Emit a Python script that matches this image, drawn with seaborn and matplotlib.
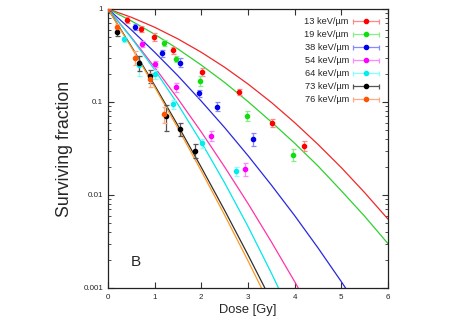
import numpy as np
import pandas as pd
import seaborn as sns
import matplotlib.pyplot as plt
from matplotlib.container import ErrorbarContainer
from matplotlib.legend_handler import HandlerErrorbar

# series labels and colours
labels = ["13 keV/\u00b5m", "19 keV/\u00b5m", "38 keV/\u00b5m", "54 keV/\u00b5m",
          "64 keV/\u00b5m", "73 keV/\u00b5m", "76 keV/\u00b5m"]
point_colors = ["#ff0000", "#11dd11", "#0000ee", "#ff00ff", "#00eeee", "#000000", "#ff5500"]
err_colors = ["#ff8888", "#88ee88", "#8888ff", "#ff88ff", "#88ffff", "#555555", "#ffaa80"]
line_colors = ["#f02828", "#30d030", "#2828e0", "#ff33aa", "#00e8e8", "#303030", "#ff9922"]

# measured points (dose [Gy], surviving fraction, error)
dose_13 = [0, 0.40, 0.71, 0.99, 1.40, 2.01, 2.81, 3.51, 4.20]
sf_13 = [1, 0.76, 0.61, 0.50, 0.36, 0.21, 0.128, 0.060, 0.034]
err_13 = [0, 0.05, 0.05, 0.05, 0.03, 0.02, 0.01, 0.006, 0.004]

dose_19 = [0, 1.19, 1.46, 1.97, 2.97, 3.97]
sf_19 = [1, 0.43, 0.29, 0.17, 0.071, 0.027]
err_19 = [0, 0.03, 0.02, 0.02, 0.008, 0.004]

dose_38 = [0, 0.57, 1.15, 1.55, 1.94, 2.33, 3.10]
sf_38 = [1, 0.645, 0.333, 0.265, 0.124, 0.089, 0.040]
err_38 = [0, 0.05, 0.03, 0.03, 0.01, 0.01, 0.006]

dose_54 = [0, 0.73, 1.01, 1.46, 2.21, 2.94]
sf_54 = [1, 0.42, 0.256, 0.144, 0.0435, 0.019]
err_54 = [0, 0.03, 0.02, 0.015, 0.005, 0.003]

dose_64 = [0, 0.34, 0.67, 1.01, 1.39, 2.01, 2.74]
sf_64 = [1, 0.47, 0.25, 0.198, 0.094, 0.036, 0.018]
err_64 = [0, 0.03, 0.06, 0.02, 0.01, 0.004, 0.002]

dose_73 = [0, 0.20, 0.66, 0.91, 1.24, 1.54, 1.87]
sf_73 = [1, 0.57, 0.265, 0.19, 0.071, 0.051, 0.030]
err_73 = [0, 0.06, 0.05, 0.03, 0.022, 0.008, 0.005]

dose_76 = [0, 0.20, 0.58, 0.89, 1.19]
sf_76 = [1, 0.645, 0.30, 0.175, 0.074]
err_76 = [0, 0.05, 0.05, 0.03, 0.015]

# fitted curves every 0.5 Gy
curve_dose = [0, 0.5, 1, 1.5, 2, 2.5, 3, 3.5, 4, 4.5, 5, 5.5, 6]
curve_13 = [1, 0.814, 0.636, 0.476, 0.342, 0.236, 0.156, 0.099, 0.060, 0.035, 0.0197, 0.0106, 0.0055]
curve_19 = [1, 0.744, 0.534, 0.371, 0.249, 0.162, 0.101, 0.061, 0.036, 0.0205, 0.0111, 0.0059, 0.0030]
curve_38 = [1, 0.596, 0.343, 0.191, 0.102, 0.053, 0.0265, 0.0128, 0.0060, 0.0027, 0.00117, 0.00049]
curve_54 = [1, 0.496, 0.236, 0.108, 0.0475, 0.020, 0.0081, 0.00314, 0.00117, 0.00042]
curve_64 = [1, 0.489, 0.222, 0.0939, 0.0369, 0.0135, 0.00459, 0.00145, 0.00043]
curve_73 = [1, 0.396, 0.151, 0.0557, 0.0198, 0.00683, 0.00227, 0.00073]
curve_76 = [1, 0.388, 0.145, 0.0521, 0.0181, 0.00607, 0.00196, 0.00061]

points = [(dose_13, sf_13, err_13), (dose_19, sf_19, err_19), (dose_38, sf_38, err_38),
          (dose_54, sf_54, err_54), (dose_64, sf_64, err_64), (dose_73, sf_73, err_73),
          (dose_76, sf_76, err_76)]
curves = [curve_13, curve_19, curve_38, curve_54, curve_64, curve_73, curve_76]

rows = []
for lab, c in zip(labels, curves):
    for d, s in zip(curve_dose, c):
        rows.append({"dose": d, "sf": s, "let": lab})
curve_df = pd.DataFrame(rows)

sns.set_style("ticks")
plt.rcParams['font.family'] = ['Liberation Sans', 'DejaVu Sans']

fig = plt.figure(figsize=(4.57, 3.2), dpi=100)
ax = fig.add_axes([0.2363, 0.1, 0.6127, 0.872])

sns.lineplot(data=curve_df, x="dose", y="sf", hue="let", palette=line_colors,
             estimator=None, sort=False, lw=0.9, legend=False, ax=ax)

handles = []
for (d, s, e), pc, ec, lab in zip(points, point_colors, err_colors, labels):
    ax.errorbar(d, s, yerr=e, fmt='o', ms=3.0, color=pc, ecolor=ec, elinewidth=0.9,
                capsize=1.8, capthick=0.9, zorder=5)
    # legend proxy with a horizontal bar like gnuplot's key
    h = ax.errorbar([np.nan], [np.nan], xerr=[0], fmt='o', ms=3.0, color=pc, ecolor=ec,
                    elinewidth=0.9, capsize=1.8, capthick=0.9, label=lab)
    handles.append(h)

ax.set_yscale('log')
ax.set_xlim(0, 6)
ax.set_ylim(0.001, 1)
ax.set_xticks(range(7))
ax.set_yticks([0.001, 0.01, 0.1, 1])
ax.set_yticklabels(['0.001', '0.01', '0.1', '1'])
ax.tick_params(which='both', direction='in', top=True, right=True, labelsize=5.8, color='#333333')
ax.tick_params(which='major', length=4.5, width=0.8)
ax.tick_params(which='minor', length=2.5, width=0.6)
ax.tick_params(axis='x', pad=4.5)
ax.tick_params(axis='y', pad=3.5)
for sp in ax.spines.values():
    sp.set_linewidth(0.9)
    sp.set_color('#222222')

ax.set_xlabel("Dose [Gy]", fontsize=9.3)
ax.set_ylabel("Surviving fraction", fontsize=12.8)
ax.xaxis.set_label_coords(0.5, -0.058)
ax.yaxis.set_label_coords(-0.125, 0.5)

ax.text(0.081, 0.079, "B", transform=ax.transAxes, fontsize=11)

ax.legend(handles=handles, labels=labels, loc='upper right', frameon=False, fontsize=6.7,
          markerfirst=False, numpoints=1, handlelength=2.86, handletextpad=0.45,
          labelspacing=0.42, borderaxespad=0.5,
          handler_map={ErrorbarContainer: HandlerErrorbar(xerr_size=1.4)})

fig.savefig("out.png", dpi=100)
